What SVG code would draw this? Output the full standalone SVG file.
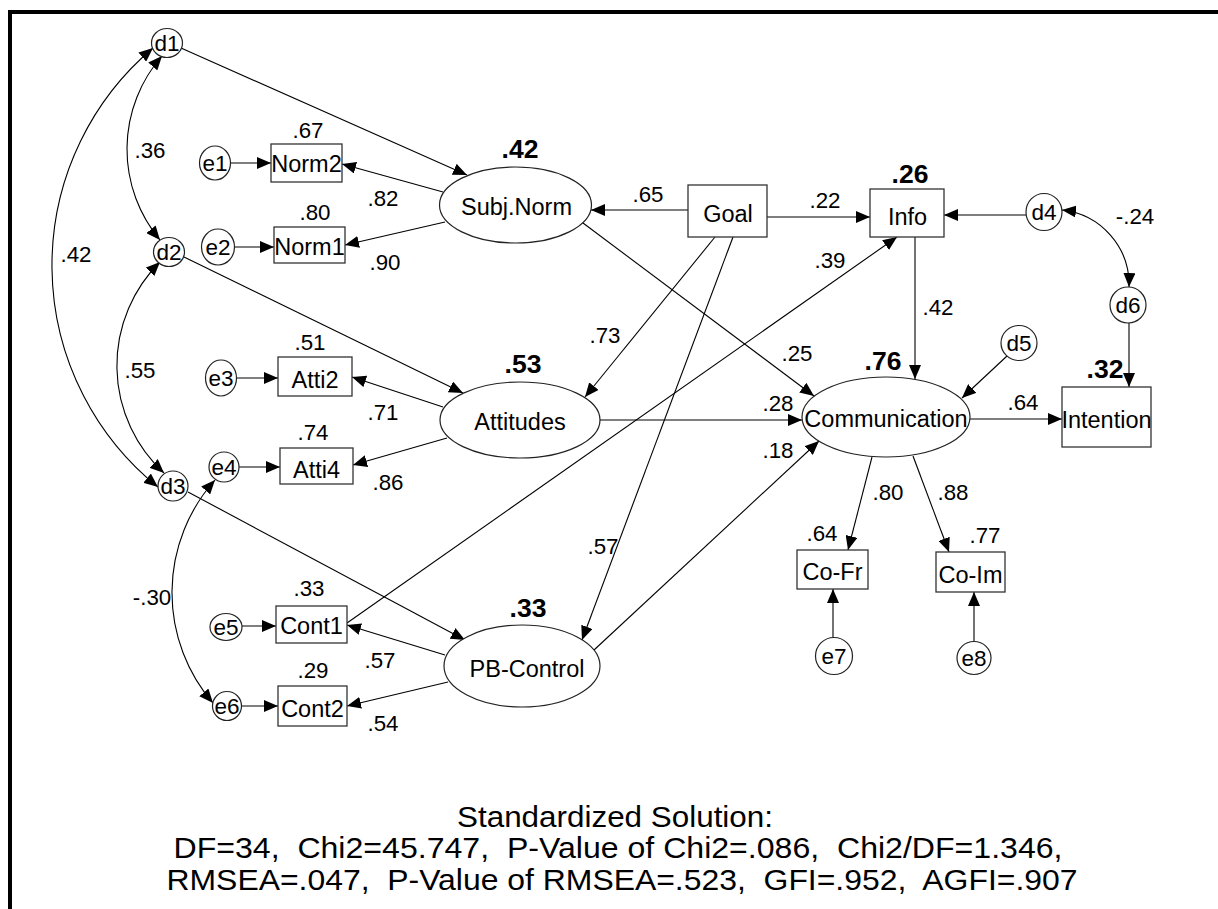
<svg xmlns="http://www.w3.org/2000/svg" width="1218" height="909" viewBox="0 0 1218 909">
<style>
text{font-family:"Liberation Sans",Arial,sans-serif;fill:#000}
.n{font-size:23.5px;text-anchor:middle}
.c{font-size:22.5px;text-anchor:middle}
.l{font-size:22.3px;text-anchor:middle}
.b{font-size:26.5px;font-weight:bold;text-anchor:middle}
.f{font-size:29px;text-anchor:middle}
.box{fill:#fff;stroke:#333;stroke-width:1.3}
.el{fill:#fff;stroke:#222;stroke-width:1.2}
.ln{fill:none;stroke:#000;stroke-width:1.1;marker-end:url(#ah)}
.dl{fill:none;stroke:#000;stroke-width:1.1;marker-start:url(#ah);marker-end:url(#ah)}
</style>
<defs>
<marker id="ah" markerUnits="userSpaceOnUse" markerWidth="14" markerHeight="12" refX="14" refY="6" orient="auto-start-reverse" viewBox="0 0 14 12"><path d="M0,0 L14,6 L0,12 z" fill="#000"/></marker>
</defs>
<rect width="1218" height="909" fill="#fff"/>
<path d="M10,909 V12 H1218" stroke="#000" stroke-width="4" fill="none"/>

<g id="connectors">
<line class="ln" x1="181" y1="48" x2="467" y2="175"/>
<line class="ln" x1="231" y1="163" x2="271" y2="163"/>
<line class="ln" x1="235" y1="247" x2="274" y2="247"/>
<line class="ln" x1="443" y1="192" x2="342" y2="164"/>
<line class="ln" x1="445" y1="222" x2="345" y2="245"/>
<line class="ln" x1="688" y1="210" x2="591" y2="210"/>
<line class="ln" x1="767" y1="217" x2="870" y2="217"/>
<line class="ln" x1="1026" y1="215" x2="944" y2="215"/>
<line class="ln" x1="1129" y1="323" x2="1129" y2="387"/>
<line class="ln" x1="915" y1="237" x2="915" y2="379"/>
<line class="ln" x1="1007" y1="356" x2="962" y2="398"/>
<line class="ln" x1="970" y1="419" x2="1062" y2="419"/>
<line class="ln" x1="600" y1="420" x2="802" y2="420"/>
<line class="ln" x1="583" y1="223" x2="814" y2="396"/>
<line class="ln" x1="715" y1="237" x2="585" y2="397"/>
<line class="ln" x1="733" y1="237" x2="582" y2="640"/>
<line class="ln" x1="347" y1="623" x2="897" y2="237"/>
<line class="ln" x1="594" y1="650" x2="819" y2="441"/>
<line class="ln" x1="188" y1="492" x2="465" y2="640"/>
<line class="ln" x1="445" y1="655" x2="347" y2="625"/>
<line class="ln" x1="448" y1="682" x2="347" y2="706"/>
<line class="ln" x1="241" y1="626" x2="276" y2="626"/>
<line class="ln" x1="242" y1="706" x2="278" y2="706"/>
<line class="ln" x1="184" y1="257" x2="463" y2="393"/>
<line class="ln" x1="237" y1="378" x2="278" y2="378"/>
<line class="ln" x1="239" y1="467" x2="280" y2="467"/>
<line class="ln" x1="443" y1="407" x2="352" y2="377"/>
<line class="ln" x1="447" y1="438" x2="353" y2="465"/>
<line class="ln" x1="872" y1="457" x2="848" y2="550"/>
<line class="ln" x1="913" y1="456" x2="949" y2="552"/>
<line class="ln" x1="833" y1="638" x2="833" y2="589"/>
<line class="ln" x1="974" y1="641" x2="974" y2="592"/>
<path class="dl" d="M153,48 A284.5,284.5 0 0 0 158,487"/>
<path class="dl" d="M162,56 A141.5,141.5 0 0 0 160,240"/>
<path class="dl" d="M160,262 A146,146 0 0 0 164,473"/>
<path class="dl" d="M215,480 A169,169 0 0 0 213,703"/>
<path class="dl" d="M1062,210 A75,75 0 0 1 1129,287"/>
</g>

<g id="labels">
<text class="l" x="308" y="138">.67</text>
<text class="l" x="150" y="158">.36</text>
<text class="l" x="383" y="206">.82</text>
<text class="l" x="315" y="220">.80</text>
<text class="l" x="385" y="270">.90</text>
<text class="l" x="76" y="262">.42</text>
<text class="l" x="648" y="202">.65</text>
<text class="l" x="825" y="208">.22</text>
<text class="l" x="1135" y="224">-.24</text>
<text class="l" x="830" y="268">.39</text>
<text class="l" x="938" y="315">.42</text>
<text class="l" x="605" y="343">.73</text>
<text class="l" x="797" y="361">.25</text>
<text class="l" x="1023" y="410">.64</text>
<text class="l" x="310" y="350">.51</text>
<text class="l" x="140" y="378">.55</text>
<text class="l" x="383" y="420">.71</text>
<text class="l" x="313" y="440">.74</text>
<text class="l" x="388" y="490">.86</text>
<text class="l" x="778" y="411">.28</text>
<text class="l" x="778" y="458">.18</text>
<text class="l" x="888" y="500">.80</text>
<text class="l" x="953" y="500">.88</text>
<text class="l" x="822" y="541">.64</text>
<text class="l" x="985" y="543">.77</text>
<text class="l" x="603" y="554">.57</text>
<text class="l" x="152" y="605">-.30</text>
<text class="l" x="309" y="596">.33</text>
<text class="l" x="380" y="668">.57</text>
<text class="l" x="313" y="678">.29</text>
<text class="l" x="383" y="731">.54</text>
<text class="b" x="520" y="158">.42</text>
<text class="b" x="910" y="183">.26</text>
<text class="b" x="523" y="373">.53</text>
<text class="b" x="883" y="370">.76</text>
<text class="b" x="1105" y="378">.32</text>
<text class="b" x="528" y="617">.33</text>
</g>

<g id="d1"><ellipse class="el" cx="167" cy="43" rx="15.5" ry="14.5"/><text class="c" x="167" y="51">d1</text></g>
<g id="d2"><ellipse class="el" cx="169" cy="252" rx="15.5" ry="14.5"/><text class="c" x="169" y="260">d2</text></g>
<g id="d3"><ellipse class="el" cx="173" cy="486" rx="15" ry="15"/><text class="c" x="173" y="494">d3</text></g>
<g id="e1"><ellipse class="el" cx="215" cy="163" rx="15.5" ry="17"/><text class="c" x="215" y="171">e1</text></g>
<g id="e2"><ellipse class="el" cx="218" cy="247" rx="16.5" ry="18"/><text class="c" x="218" y="255">e2</text></g>
<g id="e3"><ellipse class="el" cx="221" cy="378" rx="15.5" ry="18"/><text class="c" x="221" y="386">e3</text></g>
<g id="e4"><ellipse class="el" cx="224" cy="467" rx="15" ry="15"/><text class="c" x="224" y="475">e4</text></g>
<g id="e5"><ellipse class="el" cx="226" cy="627" rx="16" ry="13.5"/><text class="c" x="226" y="635">e5</text></g>
<g id="e6"><ellipse class="el" cx="227" cy="706" rx="14.5" ry="14.5"/><text class="c" x="227" y="714">e6</text></g>
<g id="d4"><ellipse class="el" cx="1044" cy="212" rx="18" ry="18.5"/><text class="c" x="1044" y="220">d4</text></g>
<g id="d5"><ellipse class="el" cx="1019" cy="343" rx="18" ry="17.5"/><text class="c" x="1019" y="351">d5</text></g>
<g id="d6"><ellipse class="el" cx="1128" cy="305" rx="18" ry="18"/><text class="c" x="1128" y="313">d6</text></g>
<g id="e7"><ellipse class="el" cx="834" cy="656" rx="18.5" ry="18.5"/><text class="c" x="834" y="664">e7</text></g>
<g id="e8"><ellipse class="el" cx="974" cy="658" rx="17" ry="16.5"/><text class="c" x="974" y="666">e8</text></g>

<g id="Norm2"><rect class="box" x="271" y="144" width="71" height="38"/><text class="n" x="306.5" y="172">Norm2</text></g>
<g id="Norm1"><rect class="box" x="274" y="227" width="71" height="36"/><text class="n" x="309.5" y="255">Norm1</text></g>
<g id="Atti2"><rect class="box" x="278" y="357" width="74" height="39"/><text class="n" x="315" y="388">Atti2</text></g>
<g id="Atti4"><rect class="box" x="280" y="448" width="73" height="36"/><text class="n" x="316.5" y="478">Atti4</text></g>
<g id="Cont1"><rect class="box" x="276" y="606" width="71" height="37"/><text class="n" x="311.5" y="634">Cont1</text></g>
<g id="Cont2"><rect class="box" x="278" y="686" width="69" height="40"/><text class="n" x="312.5" y="717">Cont2</text></g>
<g id="Goal"><rect class="box" x="688" y="185" width="79" height="52"/><text class="n" x="728" y="222">Goal</text></g>
<g id="Info"><rect class="box" x="870" y="189" width="74" height="48"/><text class="n" x="907.5" y="225">Info</text></g>
<g id="Intention"><rect class="box" x="1062" y="387" width="89" height="60"/><text class="n" x="1106.5" y="428">Intention</text></g>
<g id="Co-Fr"><rect class="box" x="797" y="550" width="71" height="39"/><text class="n" x="832.5" y="580">Co-Fr</text></g>
<g id="Co-Im"><rect class="box" x="936" y="552" width="69" height="40"/><text class="n" x="970.5" y="583">Co-Im</text></g>

<g id="SubjNorm"><ellipse class="el" cx="515.5" cy="205" rx="76" ry="38"/><text class="n" x="516.5" y="215">Subj.Norm</text></g>
<g id="Attitudes"><ellipse class="el" cx="520" cy="420" rx="80" ry="38"/><text class="n" x="520" y="430">Attitudes</text></g>
<g id="PBControl"><ellipse class="el" cx="522" cy="666" rx="78" ry="41"/><text class="n" x="527" y="677">PB-Control</text></g>
<g id="Communication"><ellipse class="el" cx="886" cy="417" rx="84" ry="40"/><text class="n" x="886" y="427">Communication</text></g>

<g id="footer">
<text class="f" x="615" y="827" textLength="316" lengthAdjust="spacingAndGlyphs">Standardized Solution:</text>
<text class="f" x="618" y="858" textLength="889" lengthAdjust="spacingAndGlyphs" xml:space="preserve">DF=34,  Chi2=45.747,  P-Value of Chi2=.086,  Chi2/DF=1.346,</text>
<text class="f" x="622" y="890" textLength="911" lengthAdjust="spacingAndGlyphs" xml:space="preserve">RMSEA=.047,  P-Value of RMSEA=.523,  GFI=.952,  AGFI=.907</text>
</g>
</svg>
